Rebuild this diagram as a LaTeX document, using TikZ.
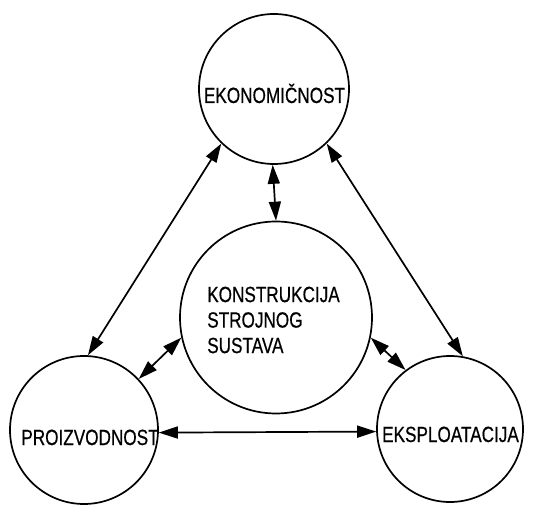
\documentclass[tikz,border=0pt]{standalone}
\usepackage{fontspec}
\setmainfont{Liberation Sans}[FakeStretch=0.78,FakeBold=0.5]
\usetikzlibrary{arrows.meta}
\begin{document}
\begin{tikzpicture}[x=1pt,y=1pt,
  circ/.style={draw,circle,line width=1.7pt,inner sep=0pt},
  lbl/.style={inner sep=0pt,font=\fontsize{22}{25.5}\selectfont},
  conn/.style={line width=1.7pt,{Triangle[length=19pt,width=12pt]}-{Triangle[length=19pt,width=12pt]}}]
\useasboundingbox (0,0) rectangle (536,-505);
% circles
\node[circ,minimum size=150pt] (E) at (274,-89) {};
\node[circ,minimum size=192pt] (K) at (276,-317.5) {};
\node[circ,minimum size=148pt] (P) at (84,-430) {};
\node[circ,minimum size=146pt] (S) at (450,-429) {};
% texts
\node[lbl,anchor=base] (Et) at (274.5,-103) {EKONOMIČNOST};
\node[lbl,anchor=base] (Pt) at (90,-445) {PROIZVODNOST};
\node[lbl,anchor=base] (St) at (450.5,-442) {EKSPLOATACIJA};
\node[lbl,align=left] (Kt) at (273.5,-320) {KONSTRUKCIJA\\STROJNOG\\SUSTAVA};
% connectors
\draw[conn] (E.226.5) -- (P.87);
\draw[conn] (E.314.5) -- (S.80);
\draw[conn] (E.269) -- (K.90);
\draw[conn] (K.192.3) -- (P.43.5);
\draw[conn] (K.348) -- (S.127.5);
\draw[conn] (P.-2) -- (S.182);
\end{tikzpicture}
\end{document}
